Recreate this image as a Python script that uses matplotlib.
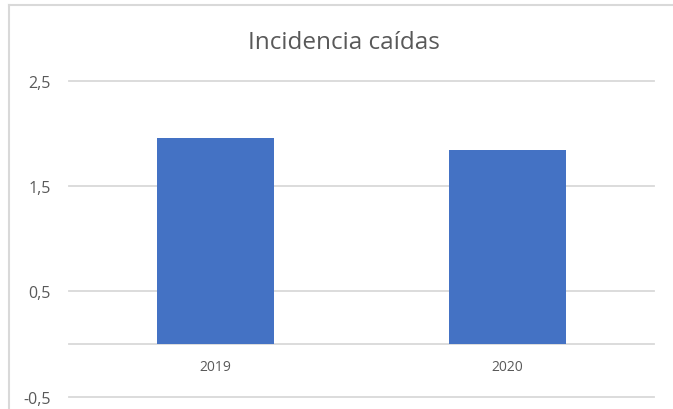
import matplotlib.pyplot as plt
from matplotlib.lines import Line2D

# data
years = ["2019", "2020"]
values = [1.96, 1.84]
ytick_vals = [-0.5, 0.5, 1.5, 2.5]
ytick_labels = ["-0,5", "0,5", "1,5", "2,5"]

plt.rcParams['font.family'] = ['Open Sans', 'DejaVu Sans']
grey = '#595959'
grid = '#d9d9d9'

fig = plt.figure(figsize=(6.73, 4.10), dpi=100)
fig.patch.set_facecolor('white')

# chart frame (left and top edges visible)
fig.add_artist(Line2D([8.5 / 673, 8.5 / 673], [0, 1 - 5.5 / 410], color=grid, lw=1.5))
fig.add_artist(Line2D([8.5 / 673, 1], [1 - 5.5 / 410, 1 - 5.5 / 410], color=grid, lw=1.5))

ax = fig.add_axes([69 / 673, 1 - 397.7 / 410, 585 / 673, (397.7 - 81.7) / 410])
ax.set_xlim(-0.5, len(years) - 0.5)
ax.set_ylim(-0.5, 2.5)

for y in ytick_vals + [0]:
    ax.axhline(y, color=grid, lw=1.3, clip_on=False, zorder=1)

ax.bar(range(len(years)), values, width=0.4, color='#4472c4', zorder=2)

ax.set_yticks(ytick_vals)
ax.set_yticklabels(ytick_labels, color=grey, fontsize=11.5)
ax.tick_params(axis='y', length=0, pad=13)
ax.set_xticks([])
for s in ax.spines.values():
    s.set_visible(False)

for i, yr in enumerate(years):
    ax.annotate(yr, xy=(i, 0), xytext=(0, -16), textcoords='offset points',
                ha='center', va='center', color=grey, fontsize=10)

fig.text(344 / 673, 1 - 43 / 410, "Incidencia caídas", ha='center', va='center',
         color=grey, fontsize=17.5)

fig.savefig("out.png", dpi=100)
